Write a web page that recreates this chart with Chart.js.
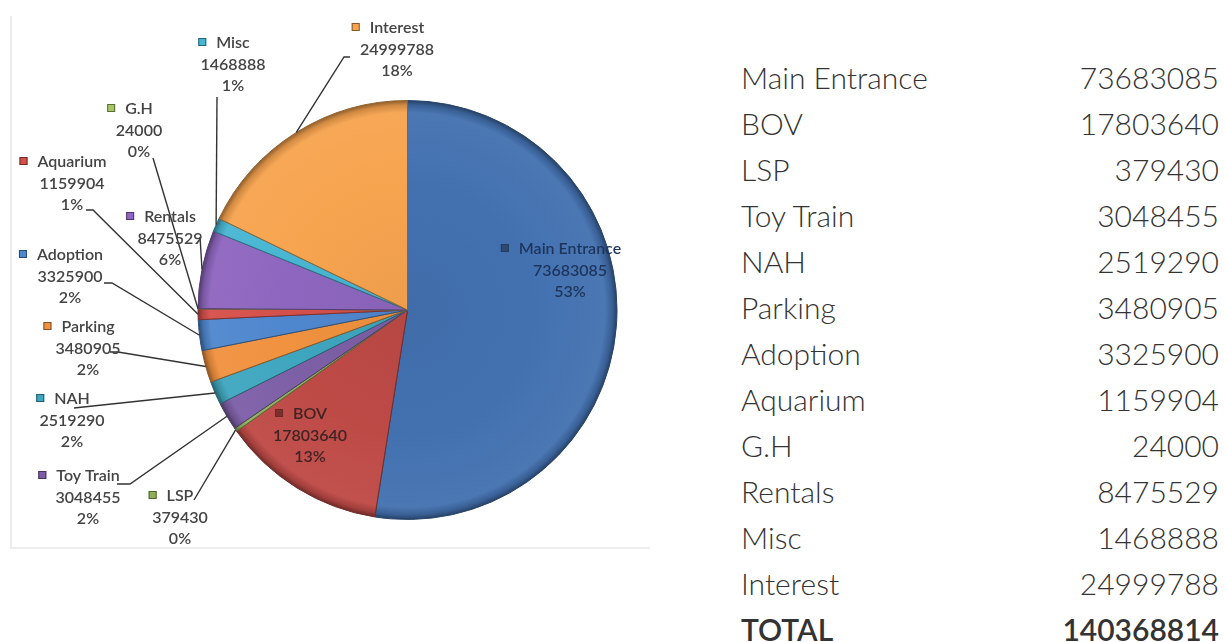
<!DOCTYPE html>
<html>
<head>
<meta charset="utf-8">
<script src="https://cdn.jsdelivr.net/npm/chart.js@4.4.1/dist/chart.umd.min.js"></script>
<style>
  html, body { margin: 0; padding: 0; background: #ffffff; }
  body { width: 1225px; height: 642px; position: relative; overflow: hidden; font-family: Lato, "Open Sans", sans-serif; }
  #frame { position: absolute; left: 10px; top: 16px; width: 638px; height: 531px;
           border-left: 2px solid #ececec; border-bottom: 2px solid #ececec; }
  #chartWrap { position: absolute; left: 0; top: 0; width: 660px; height: 560px; }
  #table { position: absolute; left: 741px; top: 54px; width: 478px; }
  .row { height: 46px; line-height: 46px; font-size: 30px; font-weight: 300; color: #333333; display: flex; justify-content: space-between; white-space: nowrap; }
  .row.total { font-weight: 600; color: #333333; }
</style>
</head>
<body>
<div id="frame"></div>
<div id="chartWrap"><canvas id="pie" width="660" height="560"></canvas></div>
<div id="table"></div>
<script>
// ---- data ----
const categories = ["Main Entrance", "BOV", "LSP", "Toy Train", "NAH", "Parking",
                    "Adoption", "Aquarium", "G.H", "Rentals", "Misc", "Interest"];
const values = [73683085, 17803640, 379430, 3048455, 2519290, 3480905,
                3325900, 1159904, 24000, 8475529, 1468888, 24999788];
const percentLabels = ["53%", "13%", "0%", "2%", "2%", "2%",
                       "2%", "1%", "0%", "6%", "1%", "18%"];
const totalLabel = "TOTAL";

// ---- styling ----
const colors = ["#4371B0", "#BE4A46", "#8FB05A", "#7D5FA6", "#3FA6BF", "#F0923F",
                "#4F87CE", "#D6504B", "#A6C862", "#8E66BF", "#48B6D2", "#F7A44F"];

// label layout: center x of text block, y of first line, leader start points (null = inside label)
const labelLayout = [
  { x: 570, y: 249, leader: null, color: "#1d355c" },
  { x: 310, y: 414, leader: null, color: "#3f2424" },
  { x: 180, y: 496, leader: [[194, 500]] },
  { x: 88,  y: 476, leader: [[117, 484], [130, 484]] },
  { x: 72,  y: 399, leader: [[74, 408]] },
  { x: 88,  y: 327, leader: [[110, 352], [118, 352]] },
  { x: 70,  y: 255, leader: [[104, 283], [112, 283]] },
  { x: 72,  y: 162, leader: [[86, 210], [93, 210]] },
  { x: 139, y: 109, leader: [[153, 158]] },
  { x: 170, y: 217, leader: [[200, 237]] },
  { x: 233, y: 43,  leader: [[217, 97]] },
  { x: 397, y: 28,  leader: [[350, 57], [344, 57]] }
];

function shade(hex, amt) {
  const n = parseInt(hex.slice(1), 16);
  let r = (n >> 16) & 255, g = (n >> 8) & 255, b = n & 255;
  const f = c => Math.max(0, Math.min(255, Math.round(amt < 0 ? c * (1 + amt) : c + (255 - c) * amt)));
  return "rgb(" + f(r) + "," + f(g) + "," + f(b) + ")";
}

// ---- table on the right ----
const table = document.getElementById("table");
const total = values.reduce((a, b) => a + b, 0);
categories.forEach((c, i) => {
  const row = document.createElement("div");
  row.className = "row";
  row.innerHTML = "<span>" + c + "</span><span>" + values[i] + "</span>";
  table.appendChild(row);
});
const trow = document.createElement("div");
trow.className = "row total";
trow.innerHTML = "<span>" + totalLabel + "</span><span>" + total + "</span>";
table.appendChild(trow);

// ---- label plugin ----
const pieLabels = {
  id: "pieLabels",
  afterDatasetsDraw(chart) {
    const ctx = chart.ctx;
    const meta = chart.getDatasetMeta(0);
    ctx.save();
    meta.data.forEach((arc, i) => {
      const L = labelLayout[i];
      const p = arc.getProps(["x", "y", "startAngle", "endAngle", "outerRadius"], true);
      const mid = (p.startAngle + p.endAngle) / 2;
      if (L.leader) {
        const ex = p.x + Math.cos(mid) * p.outerRadius;
        const ey = p.y + Math.sin(mid) * p.outerRadius;
        ctx.beginPath();
        ctx.strokeStyle = "#333333";
        ctx.lineWidth = 1.4;
        ctx.moveTo(L.leader[0][0], L.leader[0][1]);
        for (let k = 1; k < L.leader.length; k++) ctx.lineTo(L.leader[k][0], L.leader[k][1]);
        ctx.lineTo(ex, ey);
        ctx.stroke();
      }
      const lines = [categories[i], String(values[i]), percentLabels[i]];
      ctx.font = "600 16px Lato, 'Open Sans', sans-serif";
      ctx.textAlign = "center";
      ctx.textBaseline = "middle";
      ctx.fillStyle = L.color || "#444444";
      lines.forEach((t, k) => ctx.fillText(t, L.x, L.y + k * 21.5));
      // legend key
      const w = ctx.measureText(lines[0]).width;
      const kx = L.x - w / 2 - 18, ky = L.y - 5;
      ctx.fillStyle = L.leader ? colors[i] : shade(colors[i], -0.35);
      ctx.fillRect(kx, ky, 8, 8);
      ctx.strokeStyle = shade(colors[i], -0.45);
      ctx.lineWidth = 1;
      ctx.strokeRect(kx + 0.5, ky + 0.5, 7, 7);
    });
    ctx.restore();
  }
};

function sliceFill(context) {
  const i = context.dataIndex;
  const base = colors[i];
  const chart = context.chart;
  const area = chart.chartArea;
  if (!area) return base;
  const cx = (area.left + area.right) / 2, cy = (area.top + area.bottom) / 2;
  const r = Math.min(area.right - area.left, area.bottom - area.top) / 2;
  const g = chart.ctx.createRadialGradient(cx, cy, 0, cx, cy, r);
  g.addColorStop(0, shade(base, -0.04));
  g.addColorStop(0.6, base);
  g.addColorStop(0.94, shade(base, 0.04));
  g.addColorStop(0.975, shade(base, -0.15));
  g.addColorStop(1, shade(base, -0.45));
  return g;
}

new Chart(document.getElementById("pie"), {
  type: "pie",
  data: {
    labels: categories,
    datasets: [{
      data: values,
      backgroundColor: sliceFill,
      borderColor: colors.map(c => shade(c, -0.4)),
      borderWidth: 1
    }]
  },
  options: {
    responsive: false,
    animation: false,
    events: [],
    layout: { padding: { left: 197, right: 42, top: 100, bottom: 40 } },
    plugins: { legend: { display: false }, tooltip: { enabled: false } }
  },
  plugins: [pieLabels]
});
</script>
</body>
</html>
